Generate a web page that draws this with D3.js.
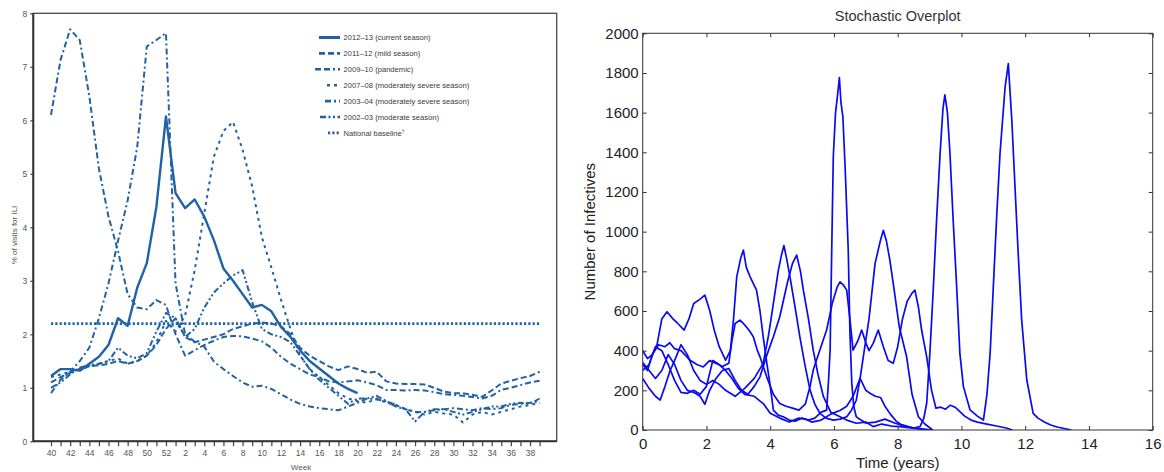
<!DOCTYPE html>
<html>
<head>
<meta charset="utf-8">
<script src="https://cdnjs.cloudflare.com/ajax/libs/d3/7.8.5/d3.min.js"></script>
<style>
  html, body { margin: 0; padding: 0; background: #fff; }
  svg { display: block; }
  .ili text { font-family: "Liberation Sans Narrow", "Liberation Sans", Arial, sans-serif; }
  .sto text { font-family: "Liberation Sans", Arial, sans-serif; }
</style>
</head>
<body>
<div id="chart"></div>
<script>
// ---------------- left panel: % of visits for ILI, by surveillance week ----------------
var weekLabels = [40, 41, 42, 43, 44, 45, 46, 47, 48, 49, 50, 51, 52,
    1, 2, 3, 4, 5, 6, 7, 8, 9, 10, 11, 12, 13, 14, 15, 16, 17, 18, 19, 20,
    21, 22, 23, 24, 25, 26, 27, 28, 29, 30, 31, 32, 33, 34, 35, 36, 37, 38, 39];

var season2012 = [1.22, 1.35, 1.35, 1.32, 1.45, 1.58, 1.8, 2.3, 2.16, 2.87, 3.33, 4.38, 6.07,
    4.64, 4.36, 4.52, 4.2, 3.76, 3.23, 3.0, 2.75, 2.5, 2.55, 2.43, 2.14, 1.95, 1.7, 1.5, 1.36,
    1.22, 1.08, 0.98, 0.9];
var season2011 = [1.1, 1.2, 1.28, 1.35, 1.4, 1.42, 1.45, 1.5, 1.45, 1.5, 1.6, 1.8, 2.1,
    2.3, 1.95, 1.85, 1.9, 1.95, 2.0, 2.1, 2.15, 2.2, 2.22, 2.2, 2.15, 2.0, 1.75, 1.6, 1.5,
    1.4, 1.33, 1.4, 1.35, 1.28, 1.3, 1.12, 1.08, 1.07, 1.07, 1.06, 1.0, 0.93, 0.9, 0.9,
    0.87, 0.83, 0.95, 1.08, 1.13, 1.18, 1.22, 1.3];
var season2009 = [6.1, 7.13, 7.7, 7.5, 6.45, 5.1, 4.2, 3.55, 2.75, 2.5, 2.47, 2.64, 2.55,
    2.0, 1.6, 1.7, 1.8, 1.88, 1.95, 1.97, 1.96, 1.92, 1.87, 1.75, 1.58, 1.45, 1.35, 1.25,
    1.2, 1.12, 1.1, 1.12, 1.14, 1.1, 1.05, 0.96, 0.96, 0.95, 0.96, 0.95, 0.92, 0.88, 0.87,
    0.85, 0.83, 0.8, 0.85, 0.96, 1.0, 1.05, 1.1, 1.13];
var season2007 = [1.2, 1.25, 1.3, 1.35, 1.4, 1.45, 1.5, 1.55, 1.45, 1.5, 1.6, 1.85, 2.25,
    2.05, 2.35, 3.2, 4.26, 5.32, 5.8, 5.97, 5.45, 4.76, 3.82, 3.25, 2.65, 2.1, 1.6, 1.35,
    1.2, 1.05, 0.9, 0.8, 0.75, 0.72, 0.8, 0.72, 0.68, 0.6, 0.55, 0.5, 0.55, 0.52, 0.5,
    0.35, 0.5, 0.55, 0.5, 0.55, 0.6, 0.65, 0.68, 0.72];
var season2003 = [0.9, 1.15, 1.3, 1.5, 1.75, 2.3, 2.95, 3.75, 4.5, 5.5, 7.38, 7.5, 7.63,
    2.95, 2.0, 1.86, 1.77, 1.49, 1.35, 1.22, 1.1, 1.02, 1.04, 0.98, 0.88, 0.78, 0.7, 0.65,
    0.62, 0.6, 0.58, 0.65, 0.72, 0.8, 0.78, 0.75, 0.68, 0.6, 0.55, 0.55, 0.58, 0.6, 0.62,
    0.6, 0.58, 0.62, 0.6, 0.62, 0.68, 0.7, 0.72, 0.75];
var season2002 = [1.0, 1.1, 1.25, 1.38, 1.42, 1.45, 1.5, 1.75, 1.6, 1.55, 1.65, 2.05, 2.4,
    2.3, 1.95, 2.1, 2.5, 2.78, 2.95, 3.1, 3.2, 2.6, 2.1, 2.0, 1.95, 1.85, 1.6, 1.35, 1.15,
    1.0, 0.85, 0.7, 0.8, 0.8, 0.85, 0.75, 0.65, 0.6, 0.37, 0.55, 0.6, 0.6, 0.55, 0.5, 0.55,
    0.6, 0.65, 0.65, 0.7, 0.72, 0.7, 0.8];
var nationalBaseline = 2.2;

var seasonNames = ["2012\u201313 (current season)", "2011\u201312 (mild season)",
    "2009\u201310 (pandemic)", "2007\u201308 (moderately severe season)",
    "2003\u201304 (moderately severe season)", "2002\u201303 (moderate season)"];
var yTicksILI = [0, 1, 2, 3, 4, 5, 6, 7, 8];

// ---------------- right panel: stochastic runs, [time in years, infectives] ----------------
var run1 = [[0, 400], [0.15, 360], [0.3, 380], [0.45, 430], [0.6, 560], [0.76, 596], [0.95, 560],
    [1.1, 537], [1.3, 504], [1.45, 560], [1.6, 638], [1.8, 660], [1.95, 680], [2.1, 604],
    [2.25, 500], [2.4, 420], [2.6, 352], [2.75, 400], [2.85, 560], [2.95, 772], [3.08, 870],
    [3.16, 907], [3.25, 820], [3.37, 772], [3.57, 705], [3.68, 600], [3.78, 470], [3.9, 330],
    [3.99, 235], [4.1, 100], [4.25, 75], [4.41, 67], [4.6, 50], [4.8, 45], [5.0, 60],
    [5.2, 50], [5.4, 60], [5.6, 90], [5.77, 100], [5.83, 250], [5.88, 403], [5.93, 907],
    [5.98, 1380], [6.05, 1600], [6.12, 1700], [6.17, 1777], [6.22, 1650], [6.28, 1580],
    [6.35, 1327], [6.45, 900], [6.5, 500], [6.56, 235], [6.62, 120], [6.7, 67], [6.85, 50],
    [7.0, 35], [7.3, 40], [7.6, 55], [7.9, 35], [8.2, 20], [8.5, 10], [8.7, 17], [8.82, 60],
    [8.91, 136], [9.01, 388], [9.12, 722], [9.22, 1058], [9.33, 1394], [9.42, 1620],
    [9.48, 1690], [9.56, 1600], [9.64, 1394], [9.74, 1058], [9.85, 722], [9.95, 388],
    [10.06, 220], [10.27, 101], [10.5, 70], [10.69, 50], [10.8, 180], [10.9, 388],
    [11.0, 722], [11.1, 1058], [11.21, 1394], [11.37, 1730], [11.47, 1847], [11.58, 1562],
    [11.68, 1226], [11.78, 890], [11.89, 554], [12.05, 252], [12.25, 84], [12.4, 60],
    [12.6, 40], [12.8, 25], [13.0, 15], [13.3, 5], [13.45, 0]];
var run2 = [[0, 330], [0.15, 300], [0.3, 380], [0.5, 430], [0.7, 420], [0.85, 440], [1.0, 410],
    [1.2, 400], [1.5, 350], [1.7, 330], [1.9, 318], [2.1, 350], [2.3, 336], [2.5, 320],
    [2.7, 336], [2.8, 450], [2.9, 537], [3.05, 554], [3.2, 530], [3.35, 500], [3.47, 470],
    [3.6, 400], [3.68, 369], [3.89, 268], [4.1, 180], [4.3, 134], [4.5, 120], [4.7, 110],
    [4.9, 100], [5.1, 130], [5.25, 220], [5.35, 302], [5.55, 400], [5.77, 504], [5.95, 640],
    [6.1, 720], [6.19, 747], [6.3, 730], [6.4, 705], [6.5, 560], [6.6, 403], [6.75, 450],
    [6.87, 504], [7.0, 440], [7.1, 400], [7.23, 437], [7.39, 504], [7.55, 420], [7.7, 350],
    [7.86, 336], [8.0, 420], [8.15, 560], [8.3, 650], [8.45, 690], [8.54, 705], [8.65, 620],
    [8.75, 504], [8.91, 369], [9.06, 201], [9.2, 110], [9.35, 115], [9.5, 105], [9.65, 125],
    [9.8, 115], [9.9, 100], [10.1, 70], [10.3, 50], [10.5, 40], [10.8, 30], [11.1, 20],
    [11.4, 10], [11.6, 0]];
var run3 = [[0, 260], [0.2, 210], [0.4, 170], [0.55, 151], [0.7, 220], [0.86, 300], [1.0, 350],
    [1.2, 430], [1.4, 380], [1.6, 300], [1.8, 250], [2.0, 230], [2.2, 250], [2.4, 230],
    [2.6, 200], [2.9, 170], [3.2, 210], [3.5, 260], [3.78, 336], [3.95, 480], [4.1, 638],
    [4.25, 800], [4.35, 880], [4.43, 930], [4.52, 860], [4.62, 772], [4.78, 620], [4.93, 470],
    [5.1, 320], [5.25, 201], [5.4, 130], [5.56, 84], [5.75, 60], [5.98, 50], [6.2, 55],
    [6.4, 67], [6.55, 100], [6.7, 150], [6.82, 260], [6.95, 400], [7.1, 560], [7.29, 840],
    [7.45, 950], [7.55, 1007], [7.65, 950], [7.75, 860], [7.86, 739], [8.05, 520],
    [8.28, 369], [8.45, 180], [8.65, 67], [8.85, 30], [9.1, 0]];
var run4 = [[0, 340], [0.2, 300], [0.4, 260], [0.6, 300], [0.8, 380], [1.0, 330], [1.2, 250],
    [1.4, 200], [1.6, 190], [1.8, 170], [1.95, 130], [2.1, 200], [2.3, 260], [2.5, 300],
    [2.7, 310], [2.9, 250], [3.1, 200], [3.3, 180], [3.5, 220], [3.68, 268], [3.9, 380],
    [4.1, 470], [4.3, 571], [4.55, 750], [4.7, 840], [4.83, 882], [4.95, 800], [5.04, 705],
    [5.2, 560], [5.35, 403], [5.5, 280], [5.67, 168], [5.9, 90], [6.19, 67], [6.4, 50],
    [6.7, 34], [7.0, 40], [7.23, 17], [7.5, 30], [7.8, 20], [8.07, 17], [8.4, 10], [8.7, 5],
    [9.0, 0]];
var run5 = [[0, 300], [0.2, 330], [0.4, 420], [0.6, 400], [0.8, 330], [1.0, 250], [1.2, 190],
    [1.4, 185], [1.6, 200], [1.8, 180], [2.0, 220], [2.2, 350], [2.4, 330], [2.6, 300],
    [2.8, 260], [3.0, 210], [3.2, 180], [3.5, 170], [3.8, 130], [4.0, 84], [4.3, 60],
    [4.6, 40], [4.9, 60], [5.1, 55], [5.3, 40], [5.6, 50], [5.9, 80], [6.2, 100], [6.4, 120],
    [6.6, 170], [6.82, 260], [7.0, 200], [7.13, 185], [7.3, 170], [7.46, 164], [7.6, 120],
    [7.77, 80], [7.95, 45], [8.09, 29], [8.5, 10], [8.8, 5], [9.1, 0]];
var xTicksTime = [0, 2, 4, 6, 8, 10, 12, 14, 16];
var yTicksInf = [0, 200, 400, 600, 800, 1000, 1200, 1400, 1600, 1800, 2000];

// ---------------- drawing ----------------
var svg = d3.select("#chart").append("svg")
    .attr("width", 1164)
    .attr("height", 472);
svg.append("rect").attr("width", 1164).attr("height", 472).attr("fill", "#fff");

// ===== left panel =====
var cdcBlue = "#2062a3";
var L = svg.append("g").attr("class", "ili");
var box = {left: 33.3, right: 556.7, top: 13.3, bottom: 441.3};

var xWeek = d3.scaleLinear().domain([0, 51]).range([51, 539.6]);
var yPct = d3.scaleLinear().domain([0, 8]).range([box.bottom, box.top]);

L.append("rect")
    .attr("x", box.left).attr("y", box.top)
    .attr("width", box.right - box.left).attr("height", box.bottom - box.top)
    .attr("fill", "none").attr("stroke", "#4a4a4a").attr("stroke-width", 1.3);

var yAxisL = L.append("g")
    .attr("transform", "translate(" + box.left + ",0)")
    .call(d3.axisLeft(yPct).tickValues(yTicksILI).tickSize(3).tickPadding(3).tickFormat(d3.format("d")));
yAxisL.select(".domain").remove();
yAxisL.selectAll("line").attr("stroke", "#444").attr("stroke-width", 1.2);
yAxisL.selectAll("text").attr("font-size", 8.5).attr("fill", "#555");

var xAxisL = L.append("g")
    .attr("transform", "translate(0," + box.bottom + ")")
    .call(d3.axisBottom(xWeek).tickValues(d3.range(weekLabels.length)).tickSize(5).tickPadding(4)
        .tickFormat(function (i) { return i % 2 ? "" : weekLabels[i]; }));
xAxisL.select(".domain").remove();
xAxisL.selectAll("line").attr("stroke", "#444").attr("stroke-width", 1.2);
xAxisL.selectAll("text").attr("font-size", 8.5).attr("fill", "#555");

// heavier left and bottom axis lines
L.append("line").attr("x1", box.left).attr("x2", box.left).attr("y1", box.top).attr("y2", box.bottom)
    .attr("stroke", "#333").attr("stroke-width", 2);
L.append("line").attr("x1", box.left).attr("x2", box.right).attr("y1", box.bottom).attr("y2", box.bottom)
    .attr("stroke", "#333").attr("stroke-width", 2);

L.append("text")
    .attr("transform", "translate(17,235) rotate(-90)")
    .attr("text-anchor", "middle")
    .attr("font-size", 8).attr("fill", "#555")
    .text("% of visits for ILI");
L.append("text")
    .attr("x", 301).attr("y", 470)
    .attr("text-anchor", "middle")
    .attr("font-size", 8).attr("fill", "#555")
    .text("Week");

var seasons = [season2012, season2011, season2009, season2007, season2003, season2002];
var seasonStyle = [
    {dash: null, width: 2.4, sample: 21},
    {dash: "6,3", width: 2, sample: 21},
    {dash: "6,3,6,3,2,3", width: 2, sample: 25},
    {dash: "3,4", width: 2, sample: 13},
    {dash: "6,3,2,3", width: 2, sample: 15},
    {dash: "6,2.5,2,2.5,2,2.5", width: 2, sample: 20}
];

var weekLine = d3.line()
    .x(function (d, i) { return xWeek(i); })
    .y(function (d) { return yPct(d); });

L.append("line")
    .attr("x1", xWeek(0)).attr("x2", xWeek(51))
    .attr("y1", yPct(nationalBaseline)).attr("y2", yPct(nationalBaseline))
    .attr("stroke", cdcBlue).attr("stroke-width", 2.6).attr("stroke-dasharray", "2.2,2.1");

seasons.slice().reverse().forEach(function (vals, k) {
    var s = seasonStyle[seasons.length - 1 - k];
    L.append("path")
        .datum(vals)
        .attr("d", weekLine)
        .attr("fill", "none")
        .attr("stroke", cdcBlue)
        .attr("stroke-width", s.width)
        .attr("stroke-linejoin", "round")
        .attr("stroke-dasharray", s.dash);
});

// legend
var legX = 340, legY = 37.5, legStep = 15.9;
seasonNames.forEach(function (name, i) {
    var s = seasonStyle[i];
    var y = legY + i * legStep;
    L.append("line")
        .attr("x1", legX - s.sample).attr("x2", legX).attr("y1", y).attr("y2", y)
        .attr("stroke", cdcBlue).attr("stroke-width", s.width + 0.6)
        .attr("stroke-dasharray", s.dash);
    L.append("text")
        .attr("x", legX + 3.5).attr("y", y + 2.8)
        .attr("font-size", 7.6).attr("fill", "#3a3a3a")
        .text(name);
});
var baseY = legY + seasonNames.length * legStep;
L.append("line")
    .attr("x1", legX - 12).attr("x2", legX).attr("y1", baseY).attr("y2", baseY)
    .attr("stroke", cdcBlue).attr("stroke-width", 2.8).attr("stroke-dasharray", "2.2,2.1");
var bt = L.append("text")
    .attr("x", legX + 3.5).attr("y", baseY + 2.8)
    .attr("font-size", 7.6).attr("fill", "#3a3a3a")
    .text("National baseline");
bt.append("tspan").attr("font-size", 5).attr("dy", -3).text("\u2020");

// ===== right panel =====
var R = svg.append("g").attr("class", "sto");
var xTime = d3.scaleLinear().domain([0, 16]).range([642.7, 1152.7]);
var yInf = d3.scaleLinear().domain([0, 2000]).range([430, 33.3]);

R.append("clipPath").attr("id", "clipR")
    .append("rect")
    .attr("x", xTime(0)).attr("y", yInf(2000))
    .attr("width", xTime(16) - xTime(0)).attr("height", yInf(0) - yInf(2000));

var runLine = d3.line()
    .x(function (d) { return xTime(d[0]); })
    .y(function (d) { return yInf(d[1]); });

var runs = [run1, run2, run3, run4, run5];
var gRuns = R.append("g").attr("clip-path", "url(#clipR)");
runs.forEach(function (r) {
    gRuns.append("path")
        .datum(r)
        .attr("d", runLine)
        .attr("fill", "none")
        .attr("stroke", "#0a0af0")
        .attr("stroke-width", 1.7)
        .attr("stroke-linejoin", "round");
});

function styleAxis(g) {
    g.select(".domain").remove();
    g.selectAll("line").attr("stroke", "#333");
    g.selectAll("text").attr("font-size", 15).attr("fill", "#222");
}

R.append("g")
    .attr("transform", "translate(0," + yInf(0) + ")")
    .call(d3.axisBottom(xTime).tickValues(xTicksTime).tickSize(-4).tickPadding(8).tickFormat(d3.format("d")))
    .call(styleAxis);
R.append("g")
    .attr("transform", "translate(0," + yInf(2000) + ")")
    .call(d3.axisTop(xTime).tickValues(xTicksTime).tickSize(-4).tickFormat(""))
    .call(styleAxis);
R.append("g")
    .attr("transform", "translate(" + xTime(0) + ",0)")
    .call(d3.axisLeft(yInf).tickValues(yTicksInf).tickSize(-4).tickPadding(4).tickFormat(d3.format("d")))
    .call(styleAxis);
R.append("g")
    .attr("transform", "translate(" + xTime(16) + ",0)")
    .call(d3.axisRight(yInf).tickValues(yTicksInf).tickSize(-4).tickFormat(""))
    .call(styleAxis);

R.append("rect")
    .attr("x", xTime(0)).attr("y", yInf(2000))
    .attr("width", xTime(16) - xTime(0)).attr("height", yInf(0) - yInf(2000))
    .attr("fill", "none").attr("stroke", "#333").attr("stroke-width", 1);

R.append("text")
    .attr("x", (xTime(0) + xTime(16)) / 2).attr("y", 21)
    .attr("text-anchor", "middle")
    .attr("font-size", 14.5).attr("fill", "#333")
    .text("Stochastic Overplot");
R.append("text")
    .attr("x", (xTime(0) + xTime(16)) / 2).attr("y", 468)
    .attr("text-anchor", "middle")
    .attr("font-size", 15).attr("fill", "#222")
    .text("Time (years)");
R.append("text")
    .attr("transform", "translate(595," + ((yInf(0) + yInf(2000)) / 2) + ") rotate(-90)")
    .attr("text-anchor", "middle")
    .attr("font-size", 15).attr("fill", "#222")
    .text("Number of Infectives");
</script>
</body>
</html>
